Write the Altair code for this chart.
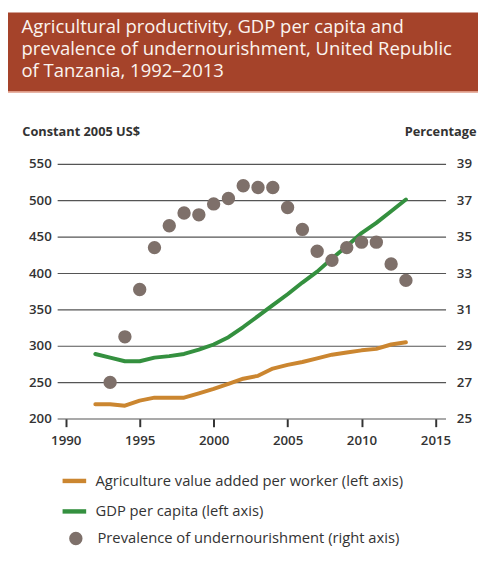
import altair as alt
import pandas as pd

# ---- data ----
years = [1992, 1993, 1994, 1995, 1996, 1997, 1998, 1999, 2000, 2001, 2002,
         2003, 2004, 2005, 2006, 2007, 2008, 2009, 2010, 2011, 2012, 2013]
agri = [220, 220, 218, 225, 229, 229, 229, 235, 241, 248, 255,
        259, 269, 274, 278, 283, 288, 291, 294, 296, 302, 305]
gdp = [289, 284, 279, 279, 284, 286, 289, 295, 302, 312, 326,
       341, 356, 371, 387, 402, 420, 437, 455, 469, 485, 501]
prev_years = [1993, 1994, 1995, 1996, 1997, 1998, 1999, 2000, 2001, 2002,
              2003, 2004, 2005, 2006, 2007, 2008, 2009, 2010, 2011, 2012, 2013]
prev = [27.0, 29.5, 32.1, 34.4, 35.6, 36.3, 36.2, 36.8, 37.1, 37.8,
        37.7, 37.7, 36.6, 35.4, 34.2, 33.7, 34.4, 34.7, 34.7, 33.5, 32.6]

series_names = ["Agriculture value added per worker (left axis)",
                "GDP per capita (left axis)"]
prev_name = "Prevalence of undernourishment (right axis)"
title_lines = ["Agricultural productivity, GDP per capita and",
               "prevalence of undernourishment, United Republic",
               "of Tanzania, 1992\u20132013"]
x_ticks = [1990, 1995, 2000, 2005, 2010, 2015]
left_ticks = [200, 250, 300, 350, 400, 450, 500, 550]
right_ticks = [25, 27, 29, 31, 33, 35, 37, 39]

ORANGE = "#CB8630"
GREEN = "#34903F"
GREY = "#7E706A"
BOX = "#A5432A"
FONT = "Open Sans"
INK = "#333333"

df_lines = pd.DataFrame({
    "year": years * 2,
    "value": agri + gdp,
    "series": [series_names[0]] * len(years) + [series_names[1]] * len(years),
})
df_prev = pd.DataFrame({"year": prev_years, "prev": prev,
                        "series2": [prev_name] * len(prev_years)})
one = pd.DataFrame({"k": [0]})

W, H = 395, 259.3

x_enc = alt.X("year:Q",
              scale=alt.Scale(domain=[1989.42, 2015.68], nice=False, zero=False),
              axis=alt.Axis(values=x_ticks, format="d", title=None, grid=False,
                            domain=False, ticks=True, tickSize=8, tickWidth=2,
                            tickColor=INK, labelPadding=7, labelFontSize=13.5,
                            labelFont=FONT, labelColor=INK, labelFontWeight=600))

header = alt.Chart(one).mark_rect(color=BOX).encode(
    x=alt.value(-51), x2=alt.value(430), y=alt.value(-154), y2=alt.value(-74))
header_line = alt.Chart(one).mark_rect(color="#DE9A86").encode(
    x=alt.value(-51), x2=alt.value(430), y=alt.value(-74), y2=alt.value(-72.3))
header_text = alt.Chart(one).mark_text(
    align="left", baseline="alphabetic", font=FONT, fontSize=18.8,
    lineHeight=22.5, color="#FBF4EF").encode(
    x=alt.value(-36.3), y=alt.value(-133.5), text=alt.value(title_lines))

lines = alt.Chart(df_lines).mark_line(
    strokeWidth=4, strokeCap="round", strokeJoin="round").encode(
    x=x_enc,
    y=alt.Y("value:Q",
            scale=alt.Scale(domain=[200, 550], nice=False, zero=False),
            axis=alt.Axis(values=left_ticks, grid=True, gridColor="#555555",
                          gridWidth=1.2, domain=False, ticks=False, labelPadding=6,
                          labelFontSize=13.5, labelFont=FONT, labelColor=INK,
                          labelFontWeight=600,
                          title="Constant 2005 US$", titleAngle=0,
                          titleAlign="left", titleBaseline="alphabetic",
                          titleX=-36, titleY=-29, titleFont=FONT,
                          titleFontSize=13, titleFontWeight="bold",
                          titleColor=INK)),
    color=alt.Color("series:N",
                    scale=alt.Scale(domain=series_names, range=[ORANGE, GREEN]),
                    legend=alt.Legend(orient="none", legendX=3, legendY=308,
                                      title=None, symbolType="stroke",
                                      symbolStrokeWidth=4.5, symbolSize=576,
                                      labelFontSize=15, labelFont=FONT,
                                      labelColor=INK, labelOffset=7,
                                      labelLimit=0, rowPadding=7, padding=0)),
)

points = alt.Chart(df_prev).mark_circle(size=185, opacity=1).encode(
    x=x_enc,
    y=alt.Y("prev:Q",
            scale=alt.Scale(domain=[25, 39], nice=False, zero=False),
            axis=alt.Axis(orient="right", values=right_ticks, grid=False,
                          domain=False, ticks=False, labelPadding=11,
                          labelFontSize=13.5, labelFont=FONT, labelColor=INK,
                          labelFontWeight=600,
                          title="Percentage", titleAngle=0, titleAlign="right",
                          titleBaseline="alphabetic", titleX=31, titleY=-29,
                          titleFont=FONT, titleFontSize=13,
                          titleFontWeight="bold", titleColor=INK)),
    fill=alt.Fill("series2:N", scale=alt.Scale(domain=[prev_name], range=[GREY]),
                  legend=alt.Legend(orient="none", legendX=11, legendY=373,
                                    title=None, symbolType="circle",
                                    symbolSize=185, labelFontSize=15,
                                    labelFont=FONT, labelColor=INK,
                                    labelOffset=14, labelLimit=0, padding=0)),
)

chart = alt.layer(header, header_line, header_text, lines, points).resolve_scale(
    y="independent").properties(
    width=W, height=H,
    padding={"left": 50, "top": 153.7, "right": 33, "bottom": 150},
    autosize=alt.AutoSizeParams(type="none"),
).configure_view(stroke=None)

chart.save("out.html", embed_options={"renderer": "svg", "actions": False})
